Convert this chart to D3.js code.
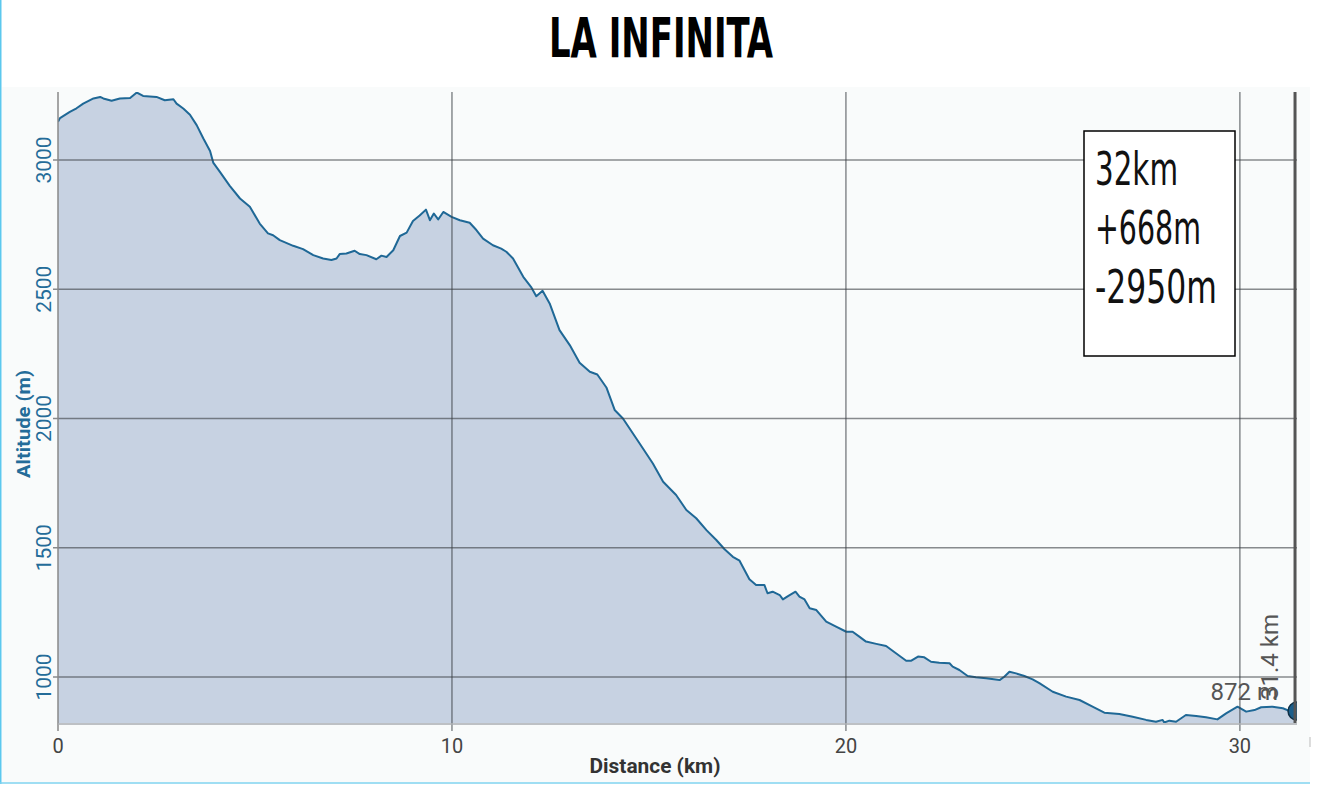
<!DOCTYPE html>
<html>
<head>
<meta charset="utf-8">
<script src="https://cdn.jsdelivr.net/npm/d3@7"></script>
<style>
  html, body { margin: 0; padding: 0; background: #ffffff; }
  svg { display: block; }
</style>
</head>
<body>
<svg id="chart" width="1320" height="786"></svg>
<script>
// ---- data ----
const title = "LA INFINITA";
const distKm = [0, 0.05, 0.3, 0.47, 0.64, 0.9, 1.07, 1.15, 1.36, 1.57, 1.83, 2.0, 2.16, 2.5, 2.71, 2.93, 3.01, 3.18, 3.35, 3.52, 3.69, 3.86, 3.94, 4.11, 4.36, 4.62, 4.87, 5.12, 5.33, 5.46, 5.63, 5.97, 6.22, 6.48, 6.73, 6.94, 7.07, 7.15, 7.32, 7.53, 7.66, 7.83, 8.08, 8.21, 8.34, 8.51, 8.68, 8.85, 9.01, 9.18, 9.34, 9.44, 9.54, 9.65, 9.78, 9.99, 10.2, 10.45, 10.62, 10.79, 11.04, 11.25, 11.38, 11.55, 11.81, 12.02, 12.14, 12.3, 12.48, 12.73, 12.99, 13.24, 13.5, 13.69, 13.92, 14.13, 14.34, 14.76, 15.1, 15.36, 15.69, 15.95, 16.2, 16.46, 16.71, 16.92, 17.13, 17.3, 17.55, 17.72, 17.93, 18.01, 18.14, 18.32, 18.4, 18.53, 18.72, 18.82, 18.95, 19.08, 19.25, 19.5, 19.75, 20.01, 20.17, 20.34, 20.51, 20.77, 21.02, 21.27, 21.53, 21.66, 21.83, 21.99, 22.16, 22.37, 22.63, 22.71, 22.88, 23.09, 23.3, 23.56, 23.9, 24.02, 24.15, 24.32, 24.53, 24.74, 24.91, 25.25, 25.59, 25.93, 26.26, 26.56, 26.94, 27.28, 27.62, 27.87, 28.04, 28.08, 28.21, 28.38, 28.63, 28.89, 29.14, 29.43, 29.65, 29.94, 30.16, 30.37, 30.54, 30.83, 31.09, 31.3, 31.4];
const altitudeM = [3148, 3162, 3186, 3200, 3218, 3238, 3244, 3238, 3229, 3238, 3240, 3261, 3248, 3244, 3231, 3235, 3218, 3199, 3175, 3135, 3083, 3035, 2990, 2954, 2900, 2851, 2819, 2754, 2716, 2709, 2690, 2668, 2655, 2632, 2619, 2613, 2619, 2636, 2638, 2649, 2636, 2632, 2616, 2630, 2625, 2651, 2706, 2719, 2764, 2785, 2808, 2767, 2793, 2770, 2799, 2780, 2767, 2757, 2729, 2696, 2670, 2657, 2645, 2619, 2548, 2506, 2473, 2494, 2445, 2342, 2284, 2216, 2181, 2170, 2120, 2033, 2000, 1904, 1826, 1755, 1704, 1646, 1614, 1568, 1530, 1494, 1465, 1450, 1378, 1356, 1356, 1324, 1330, 1317, 1300, 1313, 1330, 1311, 1300, 1266, 1259, 1214, 1195, 1175, 1175, 1156, 1137, 1128, 1120, 1092, 1063, 1063, 1079, 1076, 1059, 1055, 1053, 1040, 1027, 1004, 999, 995, 988, 1001, 1020, 1014, 1004, 991, 976, 943, 924, 911, 885, 862, 857, 846, 834, 827, 834, 824, 831, 827, 853, 849, 844, 836, 859, 885, 866, 872, 883, 885, 879, 866, 872];
const xTicks = [0, 10, 20, 30];
const yTicks = [1000, 1500, 2000, 2500, 3000];
const xDomain = [0, 31.45];
const yDomain = [822, 3263];
const cursorKm = 31.4;
const cursorAlt = 872;
const summaryLines = ["32km", "+668m", "-2950m"];
const xTitle = "Distance (km)";
const yTitle = "Altitude (m)";

// ---- layout ----
const svg = d3.select("#chart");
const L = 58, R = 1297, T = 92, B = 723;
const x = d3.scaleLinear().domain(xDomain).range([L, R]);
const y = d3.scaleLinear().domain(yDomain).range([B, T]);
const pts = distKm.map((d, i) => ({ d, a: altitudeM[i] }));

// backgrounds
svg.append("rect").attr("x", 0).attr("y", 0).attr("width", 1320).attr("height", 786).attr("fill", "#ffffff");
svg.append("rect").attr("x", 2).attr("y", 87).attr("width", 1308).attr("height", 695).attr("fill", "#f9fbfb");
svg.append("line").attr("x1", 0.75).attr("x2", 0.75).attr("y1", 0).attr("y2", 784).attr("stroke", "#5cc8ee").attr("stroke-width", 1.5);
svg.append("line").attr("x1", 0).attr("x2", 1310).attr("y1", 783).attr("y2", 783).attr("stroke", "#7fd3ef").attr("stroke-width", 1.5);

// title
svg.append("text").attr("x", 661).attr("y", 57)
  .attr("text-anchor", "middle")
  .attr("font-family", "'Liberation Sans Narrow', 'DejaVu Sans Condensed', sans-serif")
  .attr("font-weight", "bold").attr("font-size", 55)
  .attr("textLength", 224).attr("lengthAdjust", "spacingAndGlyphs")
  .attr("fill", "#000").text(title);

// clip
svg.append("defs").append("clipPath").attr("id", "plotclip")
  .append("rect").attr("x", L).attr("y", T).attr("width", R - L).attr("height", B - T);

// area + line
const area = d3.area().x(p => x(p.d)).y0(B).y1(p => y(p.a)).curve(d3.curveLinear);
const line = d3.line().x(p => x(p.d)).y(p => y(p.a)).curve(d3.curveLinear);
const plot = svg.append("g").attr("clip-path", "url(#plotclip)");
plot.append("path").datum(pts).attr("d", area).attr("fill", "#c7d2e2");

// grid
const grid = svg.append("g");
grid.selectAll("line.h").data(yTicks).enter().append("line")
  .attr("x1", L - 5).attr("x2", R).attr("y1", d => y(d)).attr("y2", d => y(d))
  .attr("stroke", "#3a3f45").attr("stroke-opacity", 0.6).attr("stroke-width", 1.5);
grid.selectAll("line.v").data(xTicks.filter(d => d > 0)).enter().append("line")
  .attr("x1", d => x(d)).attr("x2", d => x(d)).attr("y1", T).attr("y2", B + 8)
  .attr("stroke", "#3a3f45").attr("stroke-opacity", 0.6).attr("stroke-width", 1.5);

// axes lines
svg.append("line").attr("x1", L).attr("x2", L).attr("y1", T).attr("y2", B + 8)
  .attr("stroke", "#888").attr("stroke-width", 1.5);
svg.append("line").attr("x1", L).attr("x2", R).attr("y1", B + 1).attr("y2", B + 1)
  .attr("stroke", "#a8adb2").attr("stroke-width", 1.5);

// profile line
plot.append("path").datum(pts).attr("d", line).attr("fill", "none")
  .attr("stroke", "#1f6896").attr("stroke-width", 2).attr("stroke-linejoin", "round");

// x tick labels
svg.selectAll("text.xt").data(xTicks).enter().append("text")
  .attr("x", d => x(d)).attr("y", 753)
  .attr("text-anchor", "middle").attr("font-family", "Roboto, sans-serif")
  .attr("font-size", 20).attr("fill", "#444").text(d => d);
svg.append("line").attr("x1", 1310).attr("x2", 1310).attr("y1", 737).attr("y2", 747)
  .attr("stroke", "#bbb").attr("stroke-width", 1);

// y tick labels
svg.selectAll("text.yt").data(yTicks).enter().append("text")
  .attr("transform", d => `translate(51,${y(d)}) rotate(-90)`)
  .attr("text-anchor", "middle").attr("font-family", "Roboto, sans-serif")
  .attr("font-size", 21).attr("fill", "#246c99").text(d => d);

// axis titles
svg.append("text").attr("x", 655).attr("y", 773).attr("text-anchor", "middle")
  .attr("font-family", "Roboto, sans-serif").attr("font-weight", "bold")
  .attr("font-size", 20).attr("textLength", 131).attr("lengthAdjust", "spacingAndGlyphs")
  .attr("fill", "#333").text(xTitle);
svg.append("text").attr("transform", "translate(30,424) rotate(-90)").attr("text-anchor", "middle")
  .attr("font-family", "Roboto, sans-serif").attr("font-weight", "bold")
  .attr("font-size", 18).attr("textLength", 108).attr("lengthAdjust", "spacingAndGlyphs")
  .attr("fill", "#246c99").text(yTitle);

// cursor
svg.append("line").attr("x1", x(cursorKm)).attr("x2", x(cursorKm)).attr("y1", T).attr("y2", B)
  .attr("stroke", "#555").attr("stroke-width", 3);
plot.append("circle").attr("cx", x(cursorKm) + 2).attr("cy", y(cursorAlt) + 1).attr("r", 9)
  .attr("fill", "#1c5e8a").attr("stroke", "#0f2f45").attr("stroke-width", 1.5);
svg.append("text").attr("x", 1278).attr("y", 700).attr("text-anchor", "end")
  .attr("font-family", "Roboto, sans-serif").attr("font-size", 24).attr("fill", "#555")
  .text(cursorAlt + " m");
svg.append("text").attr("transform", "translate(1278,700) rotate(-90)").attr("text-anchor", "start")
  .attr("font-family", "Roboto, sans-serif").attr("font-size", 24).attr("fill", "#555")
  .text(cursorKm + " km");

// summary box
svg.append("rect").attr("x", 1084).attr("y", 131).attr("width", 151).attr("height", 225)
  .attr("fill", "#fff").attr("stroke", "#000").attr("stroke-width", 1.5);
const lens = [83, 106, 122];
svg.selectAll("text.sum").data(summaryLines).enter().append("text")
  .attr("x", 1095).attr("y", (d, i) => 185 + i * 59)
  .attr("font-family", "'Liberation Sans Narrow', 'DejaVu Sans Condensed', sans-serif")
  .attr("font-size", 46).attr("fill", "#111")
  .attr("textLength", (d, i) => lens[i]).attr("lengthAdjust", "spacingAndGlyphs")
  .text(d => d);
</script>
</body>
</html>
